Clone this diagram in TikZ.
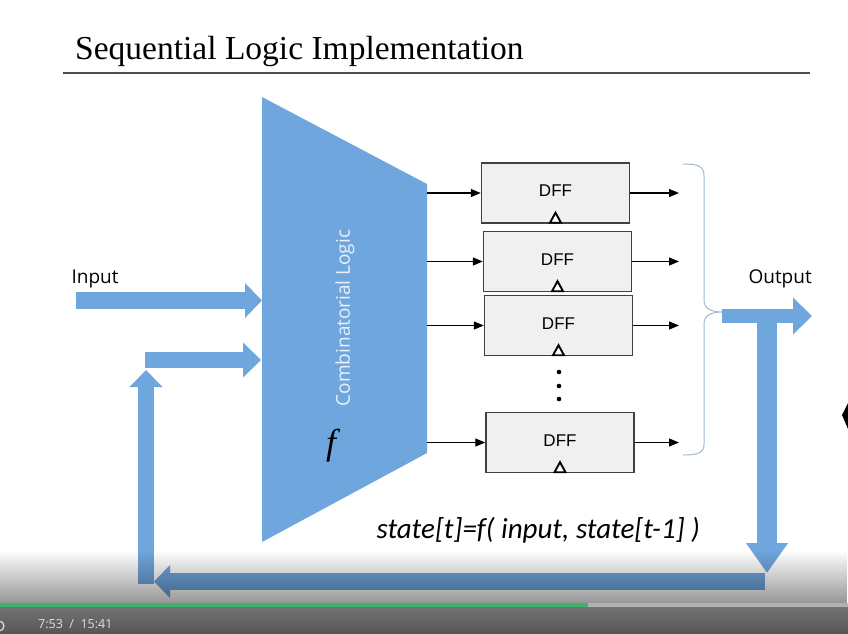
\documentclass[tikz,border=0pt]{standalone}
\usepackage{fontspec}
\setmainfont{Liberation Serif}
\newfontfamily\uifont{Open Sans}
\newfontfamily\boxfont{Liberation Sans}
\newfontfamily\eqfont{Carlito}
\usetikzlibrary{arrows.meta,fadings}

\definecolor{flowblue}{RGB}{111,166,221}
\definecolor{dffgray}{RGB}{240,240,240}
\definecolor{bracecol}{RGB}{160,185,212}
\definecolor{progress}{RGB}{62,178,110}

\tikzset{
  dffbox/.style={draw=black!75, line width=1.4pt, fill=dffgray,
    minimum width=148pt, minimum height=60pt, inner sep=0pt,
    font=\boxfont\fontsize{17}{19}\selectfont},
  sig/.style={line width=1.2pt, -{Triangle[length=10pt,width=8pt]}},
  clk/.style={line width=1.9pt, fill=white, line join=miter},
  flow/.style={draw=flowblue, line width=#1},
  lbl/.style={font=\uifont\fontsize{19}{22}\selectfont, anchor=base west},
}

\begin{document}
\begin{tikzpicture}[x=1pt,y=-1pt]
  \useasboundingbox (0,0) rectangle (848,633);
  \clip (0,0) rectangle (848,633);
  \fill[white] (0,0) rectangle (848,633);

  % title
  \node[anchor=base west, inner sep=0pt, font=\fontsize{33.5}{38}\selectfont] (title) at (75,59) {Sequential Logic Implementation};
  \draw[line width=1.8pt, black!70] (63,73) -- (810,73);

  % combinatorial block
  \fill[flowblue] (262,97) -- (427,184) -- (427,453) -- (262,542) -- cycle;
  \node[rotate=90, text=white!85!flowblue, font=\uifont\fontsize{19}{22}\selectfont] (comb) at (345,318) {Combinatorial Logic};
  \node[font=\itshape\fontsize{36}{40}\selectfont] (fn) at (331,446) {f};
  \coordinate (clr) at (427,0);
  \coordinate (bus) at (679,0);

  % flip-flops
  \foreach \n/\x/\y in {1/555.5/193, 2/557.5/261.5, 3/558.5/325.5, 4/560/442.5} {
    \node[dffbox] (d\n) at (\x,\y) {\raisebox{4pt}{DFF}};
    \draw[sig] (d\n.west -| clr) -- (d\n.west);
    \draw[sig] (d\n.east) -- (d\n.east -| bus);
    \draw[clk] ([xshift=-5.5pt,yshift=1pt]d\n.south) -- ++(5.5,-10) -- ++(5.5,10) -- cycle;
  }
  \foreach \y in {372,386,399}
    \fill (559,\y) circle (2.3);

  % brace
  \draw[bracecol, line width=1pt] (683,164) .. controls (698,164) and (704,166) .. (704,176)
    -- (704,300) .. controls (704,308) and (710,312) .. (722,312)
    .. controls (710,312) and (704,316) .. (704,324)
    -- (704,444) .. controls (704,453) and (698,455) .. (683,455);

  % labels
  \node[lbl] (inlbl) at (68,283) {Input};
  \node[lbl] (outlbl) at (745,283) {Output};
  \node[anchor=base west, font=\eqfont\itshape\fontsize{29}{32}\selectfont] (eq) at (373,538) {state[t]=f( input, state[t-1] )};

  % wide arrows
  \coordinate (inA) at (76,300.5);
  \coordinate (inB) at (262,300.5);
  \coordinate (fbA) at (145,360);
  \coordinate (fbB) at (261,360);
  \coordinate (upA) at (146,584);
  \coordinate (upB) at (146,370);
  \coordinate (botA) at (765,581.5);
  \coordinate (botB) at (154,581.5);
  \coordinate (dnA) at (767,318);
  \coordinate (dnB) at (767,573);
  \coordinate (outA) at (722,316);
  \coordinate (outB) at (812,316);
  \draw[flow=17pt, -{Triangle[length=17pt,width=34pt]}] (inA) -- (inB);
  \draw[flow=16pt, -{Triangle[length=17pt,width=32pt]}] (upA) -- (upB);
  \draw[flow=16pt, -{Triangle[length=18pt,width=34pt]}] (fbA) -- (fbB);
  \draw[flow=17pt, -{Triangle[length=16pt,width=32pt]}] (botA) -- (botB);
  \draw[flow=14pt, -{Triangle[length=19pt,width=36pt]}] (outA) -- (outB);
  \draw[flow=20pt, -{Triangle[length=30pt,width=40pt]}] (dnA) -- (dnB);

  % cursor edge
  \fill (848,403) -- (842,415) -- (848,429) -- cycle;

  % player bar
  \fill[black, opacity=0.42, path fading=north] (0,550) rectangle (848,604);
  \shade[top color=black!55, bottom color=black!66] (0,607) rectangle (848,633);
  \fill[progress] (0,603) rectangle (588,607);
  \fill[black!30] (588,603) rectangle (848,607);
  \draw[black!12, line width=1.2pt] (-1,626) circle (5);
  \node[anchor=base west, inner sep=0pt, text=black!12, font=\uifont\fontsize{12.5}{14}\selectfont] (time) at (38,628.5) {7:53 \ / \ 15:41};
\end{tikzpicture}
\end{document}
